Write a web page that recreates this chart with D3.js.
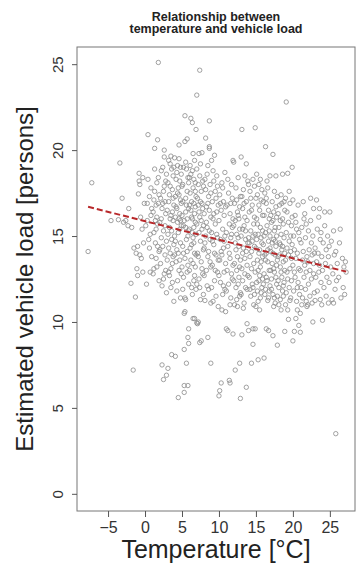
<!DOCTYPE html>
<html>
<head>
<meta charset="utf-8">
<script src="https://cdn.jsdelivr.net/npm/d3@7/dist/d3.min.js"></script>
<style>
  body { margin: 0; background: #fff; }
  svg { display: block; font-family: "Liberation Sans", Arial, sans-serif; }
  .axis path, .axis line { stroke: #555; }
  .axis text { fill: #333; }
</style>
</head>
<body>
<svg id="chart" width="360" height="563"></svg>
<script>
// chart text
const titleLines = ['Relationship between', 'temperature and vehicle load'];
const xLabel = 'Temperature [°C]';
const yLabel = 'Estimated vehicle load [persons]';
const xTicks = [-5, 0, 5, 10, 15, 20, 25];
const yTicks = [0, 5, 10, 15, 20, 25];

// fitted line, start and end (temperature, load)
const trend = [[-7.7, 16.7], [27.2, 12.93]];

const points = [
  [-7.7,14.1],[-7.2,18.1],[-4.6,15.9],[-3.6,15.95],[-3.4,19.25],[-3.1,17.2],[-2.9,15.8],[-2.6,15.9],[-2.3,15.6],[-2.2,16.6],
  [-1.9,12.25],[-1.8,15.5],[-1.6,7.2],[-1.5,14.3],[-1.3,11.45],[-1.2,14.0],[-1.1,13.1],[-1.0,12.7],[-1.0,14.4],[-0.9,17.45],
  [-0.8,18.65],[-0.8,18.2],[-0.7,18.0],[-0.7,13.9],[-0.6,16.1],[-0.5,13.7],[-0.4,15.4],[-0.3,18.4],[-0.3,12.9],[-0.2,14.6],[-0.1,16.9],
  [0.1,15.6],[0.3,16.9],[0.4,20.9],[0.5,14.8],[0.2,12.2],[0.6,17.3],[0.7,15.1],[0.8,16.2],[0.9,13.8],[0.4,18.3],[0.6,14.3],[0.8,17.8],[0.3,15.9],[0.9,16.6],[0.7,12.9],
  [1.1,16.4],[1.2,15.2],[1.3,20.1],[1.3,17.6],[1.4,14.6],[1.5,16.8],[1.6,13.2],[1.7,20.6],[1.7,15.7],[1.8,25.1],[1.8,18.4],[1.9,14.1],[1.1,12.8],[1.2,17.1],[1.4,15.9],
  [1.5,13.7],[1.6,16.1],[1.8,16.9],[1.9,12.4],[1.3,18.9],[1.5,15.4],[1.7,14.4],[1.9,17.4],[1.2,13.1],[1.6,18.1],
  [2.0,15.8],[2.1,17.2],[2.2,14.9],[2.3,12.1],[2.3,16.6],[2.4,19.0],[2.5,15.3],[2.5,6.65],[2.6,20.0],[2.6,19.6],[2.6,17.9],[2.7,13.9],[2.8,16.3],[2.9,6.9],[2.9,11.7],
  [2.9,18.6],[2.1,13.4],[2.2,16.0],[2.3,7.5],[2.4,14.4],[2.5,17.6],[2.6,12.8],[2.7,15.6],[2.8,18.2],[2.9,14.7],[2.2,18.8],[2.4,16.9],[2.7,17.0],[2.8,13.0],[2.0,14.2],[2.5,12.5],
  [3.1,7.3],[3.0,16.5],[3.1,18.1],[3.2,14.3],[3.2,17.0],[3.3,15.5],[3.3,12.7],[3.4,19.2],[3.5,12.0],[3.5,16.2],[3.5,19.65],[3.6,8.1],[3.6,14.8],[3.7,17.7],[3.7,13.4],
  [3.8,15.9],[3.8,18.5],[3.9,16.8],[3.9,11.2],[3.0,13.6],[3.1,15.1],[3.2,19.4],[3.3,17.4],[3.4,14.0],[3.4,16.0],[3.6,18.9],[3.6,15.3],[3.7,12.3],[3.8,17.2],[3.9,14.5],
  [3.9,19.0],[3.2,12.9],[3.4,17.9],[3.5,13.1],[3.7,16.4],[3.8,13.8],
  [4.0,19.55],[4.1,8.0],[4.0,15.0],[4.1,17.3],[4.2,13.5],[4.2,16.7],[4.3,18.7],[4.3,14.2],[4.4,15.8],[4.4,12.4],[4.5,5.6],[4.5,17.8],[4.5,15.2],[4.6,20.3],[4.6,19.5],
  [4.6,13.0],[4.7,16.3],[4.7,18.2],[4.8,14.6],[4.8,17.1],[4.9,15.6],[4.9,12.8],[4.0,13.9],[4.1,16.1],[4.2,18.3],[4.3,11.8],[4.4,17.5],[4.4,19.1],[4.5,14.0],[4.6,16.0],
  [4.7,13.6],[4.7,15.4],[4.8,19.0],[4.8,11.4],[4.9,16.9],[4.9,18.6],[4.1,14.7],[4.3,16.6],[4.6,17.4],[4.8,15.9],
  [5.0,16.2],[5.1,14.4],[5.1,18.0],[5.2,15.6],[5.2,12.6],[5.3,6.3],[5.3,5.9],[5.3,8.4],[5.3,10.5],[5.4,10.6],[5.4,20.5],[5.4,22.0],[5.4,11.4],[5.5,11.3],[5.5,19.3],
  [5.5,17.2],[5.6,7.6],[5.6,16.8],[5.7,20.65],[5.7,14.1],[5.8,9.1],[5.8,6.3],[5.8,18.4],[5.9,8.75],[5.9,9.6],[5.9,15.3],[5.0,13.2],[5.1,17.0],[5.2,19.0],[5.3,15.9],
  [5.4,13.7],[5.5,16.4],[5.6,14.8],[5.6,18.9],[5.7,12.9],[5.7,17.6],[5.8,15.0],[5.8,13.3],[5.9,16.6],[5.9,18.1],[5.0,17.9],[5.2,14.0],[5.5,15.5],[5.7,16.0],[5.9,12.2],[5.1,11.9],
  [6.0,15.4],[6.1,17.5],[6.2,21.85],[6.2,13.6],[6.3,16.1],[6.4,21.6],[6.4,18.8],[6.5,10.2],[6.5,14.9],[6.6,16.9],[6.6,12.4],[6.7,19.4],[6.7,10.2],[6.8,15.8],[6.8,13.2],
  [6.9,21.2],[6.9,17.3],[6.0,18.4],[6.1,14.3],[6.2,16.5],[6.3,12.0],[6.4,15.2],[6.5,17.8],[6.5,19.8],[6.6,14.6],[6.7,16.3],[6.8,18.1],[6.9,13.9],[6.0,13.0],[6.1,19.1],
  [6.3,17.0],[6.4,11.6],[6.6,15.5],[6.7,14.0],[6.8,16.7],[6.9,15.1],[6.0,16.8],[6.2,18.6],[6.3,14.5],[6.5,13.4],[6.6,18.3],[6.7,12.7],[6.8,17.6],[6.9,11.9],[6.4,16.0],
  [7.0,23.2],[7.0,9.95],[7.1,9.9],[7.2,10.0],[7.3,19.8],[7.4,24.65],[7.4,8.8],[7.0,15.7],[7.1,17.2],[7.2,13.8],[7.3,16.4],[7.3,12.5],[7.4,18.5],[7.5,14.7],[7.5,17.0],
  [7.6,8.9],[7.6,15.9],[7.7,19.85],[7.7,13.1],[7.8,16.6],[7.8,18.2],[7.9,14.2],[7.9,11.6],[7.0,18.9],[7.1,14.0],[7.2,16.8],[7.3,15.2],[7.4,12.0],[7.5,19.2],[7.6,13.5],
  [7.6,17.6],[7.7,15.4],[7.8,12.8],[7.9,17.9],[7.0,12.2],[7.2,18.0],[7.4,16.1],[7.5,11.3],[7.7,16.9],[7.9,15.6],
  [8.1,11.25],[8.2,20.7],[8.5,9.1],[8.7,21.7],[8.7,20.2],[8.7,20.1],[8.9,7.6],[8.9,11.1],[8.0,16.3],[8.1,14.6],[8.2,17.7],[8.3,13.0],[8.3,15.8],[8.4,18.6],[8.4,12.1],
  [8.5,16.9],[8.6,14.1],[8.6,17.3],[8.7,15.3],[8.8,13.5],[8.8,18.0],[8.9,16.1],[8.0,12.7],[8.1,18.3],[8.2,15.0],[8.3,16.7],[8.5,13.8],[8.5,19.1],[8.6,11.9],[8.7,16.5],
  [8.8,14.8],[8.9,17.5],[8.0,14.3],[8.4,15.5],[8.9,13.2],
  [9.0,19.4],[9.2,11.2],[9.4,19.7],[9.0,15.2],[9.1,17.0],[9.1,13.3],[9.2,16.0],[9.3,14.5],[9.3,18.2],[9.4,12.4],[9.5,15.7],[9.5,17.6],[9.6,13.9],[9.6,11.5],[9.7,16.4],
  [9.7,18.5],[9.8,14.9],[9.8,12.9],[9.9,16.8],[9.9,10.9],[9.0,12.0],[9.2,18.8],[9.3,16.3],[9.4,14.0],[9.5,13.0],[9.6,17.2],[9.7,15.1],[9.8,17.9],[9.9,13.6],[9.1,14.7],
  [10.0,5.7],[10.1,6.0],[10.3,6.45],[10.4,10.7],[10.0,15.9],[10.1,13.6],[10.1,17.4],[10.2,14.8],[10.2,12.3],[10.3,16.5],[10.4,18.1],[10.4,13.9],[10.5,15.4],[10.5,11.6],
  [10.6,17.0],[10.6,14.3],[10.7,12.9],[10.7,16.2],[10.8,18.7],[10.8,15.0],[10.9,10.6],[10.9,13.4],[10.0,12.7],[10.2,16.9],[10.3,14.1],[10.5,17.8],[10.6,12.1],[10.7,14.7],
  [10.8,11.9],[10.9,16.7],
  [11.0,9.6],[11.2,9.5],[11.5,6.45],[11.4,6.6],[11.9,9.3],[11.9,19.4],[11.0,15.2],[11.1,13.0],[11.1,16.8],[11.2,14.4],[11.3,12.2],[11.3,17.5],[11.4,15.7],[11.5,13.7],
  [11.5,16.3],[11.6,11.4],[11.6,14.9],[11.7,18.0],[11.7,12.8],[11.8,15.5],[11.8,17.2],[11.9,13.3],[11.0,11.8],[11.2,18.3],[11.4,14.0],[11.5,11.0],[11.6,16.9],[11.7,15.1],
  [11.8,12.5],[11.9,16.0],
  [12.0,19.3],[12.2,7.2],[12.8,7.6],[12.9,5.55],[12.0,15.6],[12.1,13.4],[12.1,16.9],[12.2,14.6],[12.3,12.0],[12.3,17.8],[12.4,15.1],[12.4,11.3],[12.5,16.4],[12.5,13.8],
  [12.6,14.9],[12.6,18.4],[12.7,12.6],[12.7,16.0],[12.8,13.2],[12.8,15.4],[12.9,17.3],[12.9,11.7],[12.0,12.4],[12.2,15.9],[12.3,14.2],[12.4,17.1],[12.5,10.9],[12.6,12.2],
  [12.7,14.4],[12.8,16.7],[12.9,13.6],[12.1,11.0],[12.4,13.0],[12.6,16.2],[12.8,11.5],
  [13.0,19.6],[13.1,21.2],[13.1,9.25],[13.7,19.2],[13.7,6.2],[13.8,9.9],[13.0,15.0],[13.1,13.1],[13.2,16.6],[13.2,12.4],[13.3,14.3],[13.3,17.7],[13.4,15.6],[13.4,11.1],
  [13.5,13.7],[13.5,16.1],[13.6,12.0],[13.6,14.8],[13.7,17.0],[13.8,13.3],[13.8,15.9],[13.9,12.7],[13.9,18.2],[13.0,11.6],[13.1,17.3],[13.2,14.0],[13.3,10.8],[13.4,16.9],
  [13.5,12.8],[13.6,15.3],[13.7,14.1],[13.8,11.9],[13.9,14.6],[13.2,15.4],[13.5,18.5],
  [14.0,9.5],[14.4,7.6],[14.6,8.7],[14.6,9.6],[14.9,9.6],[14.9,21.3],[14.0,14.9],[14.1,12.6],[14.1,16.4],[14.2,13.8],[14.2,17.6],[14.3,11.5],[14.3,15.3],[14.4,14.1],
  [14.5,16.8],[14.5,12.2],[14.6,15.0],[14.6,18.3],[14.7,13.4],[14.7,11.0],[14.8,16.1],[14.8,14.4],[14.9,12.9],[14.0,18.0],[14.1,14.6],[14.2,11.9],[14.3,17.2],[14.4,13.1],
  [14.5,14.7],[14.6,12.0],[14.7,15.7],[14.8,17.9],[14.9,15.1],[14.4,16.5],[14.8,11.6],
  [15.3,7.8],[15.0,14.3],[15.1,12.3],[15.1,16.0],[15.2,13.6],[15.2,17.4],[15.3,11.2],[15.3,15.1],[15.4,14.0],[15.4,18.0],[15.5,12.7],[15.5,16.5],[15.6,13.2],[15.6,15.5],
  [15.7,11.7],[15.7,17.1],[15.8,14.6],[15.8,12.0],[15.9,16.2],[15.9,13.8],[15.0,10.9],[15.1,14.8],[15.2,15.7],[15.3,13.0],[15.4,16.8],[15.5,14.2],[15.6,11.4],[15.7,14.9],
  [15.8,17.7],[15.9,12.5],[15.0,17.2],[15.2,11.8],[15.4,12.4],[15.6,18.3],[15.7,13.5],[15.9,15.3],[15.1,18.6],[15.5,10.7],
  [16.1,7.9],[16.3,20.2],[16.4,9.6],[16.6,11.25],[16.7,9.5],[16.9,18.5],[16.0,14.5],[16.1,12.8],[16.1,16.2],[16.2,13.9],[16.2,17.5],[16.3,11.9],[16.3,15.2],[16.4,14.0],
  [16.4,16.9],[16.5,12.4],[16.5,15.6],[16.6,13.5],[16.6,17.8],[16.7,14.7],[16.7,11.4],[16.8,16.0],[16.8,13.0],[16.9,15.0],[16.9,12.1],[16.0,17.0],[16.1,15.0],[16.2,11.6],
  [16.3,13.6],[16.4,12.6],[16.5,18.2],[16.6,14.2],[16.7,16.5],[16.8,11.8],[16.9,14.3],[16.0,12.2],[16.4,17.2],[16.8,15.3],
  [17.3,19.75],[17.3,9.2],[17.4,10.9],[17.7,18.5],[17.9,8.65],[17.0,14.1],[17.1,12.5],[17.1,15.8],[17.2,13.4],[17.2,17.0],[17.3,11.6],[17.4,14.8],[17.4,16.4],[17.5,12.9],
  [17.5,15.3],[17.6,13.9],[17.6,11.1],[17.7,16.7],[17.7,14.4],[17.8,12.2],[17.8,15.0],[17.9,13.6],[17.9,17.3],[17.0,16.2],[17.1,11.9],[17.2,14.6],[17.3,15.9],[17.4,13.1],
  [17.5,17.6],[17.6,15.5],[17.7,12.6],[17.8,16.1],[17.9,11.5],[17.0,13.0],[17.3,14.0],[17.5,11.4],[17.6,14.7],[17.8,13.3],
  [18.6,18.6],[18.9,9.45],[18.0,13.8],[18.1,15.5],[18.1,12.0],[18.2,14.6],[18.2,16.8],[18.3,11.3],[18.3,13.2],[18.4,15.1],[18.4,17.4],[18.5,12.6],[18.5,14.2],[18.6,16.0],
  [18.6,11.8],[18.7,13.5],[18.7,15.7],[18.8,12.3],[18.8,14.9],[18.9,16.5],[18.9,13.0],[18.0,16.3],[18.1,11.0],[18.2,13.9],[18.3,15.9],[18.4,12.9],[18.5,16.9],[18.6,14.4],
  [18.7,11.5],[18.8,17.0],[18.9,14.0],[18.0,12.4],[18.4,10.7],[18.7,12.1],[18.3,14.5],
  [19.1,22.8],[19.3,18.65],[19.4,10.15],[19.3,10.7],[19.6,11.25],[19.9,19.0],[19.0,13.6],[19.1,15.2],[19.1,11.7],[19.2,14.3],[19.2,16.4],[19.3,12.5],[19.4,13.9],[19.4,15.8],
  [19.5,12.0],[19.5,14.7],[19.6,16.9],[19.6,13.1],[19.7,11.4],[19.7,15.0],[19.8,13.7],[19.8,12.4],[19.9,14.5],[19.9,16.1],[19.0,17.2],[19.2,12.9],[19.5,17.6],[19.7,14.1],
  [19.8,15.6],[19.0,11.0],
  [20.0,8.9],[20.2,9.45],[20.4,10.2],[20.6,10.7],[20.8,9.8],[20.0,13.3],[20.1,15.0],[20.1,11.8],[20.2,14.2],[20.3,12.6],[20.3,16.2],[20.4,13.7],[20.5,11.2],[20.5,15.4],
  [20.6,14.0],[20.7,12.3],[20.7,16.8],[20.8,13.1],[20.9,14.8],[20.9,11.6],[20.0,17.1],[20.2,12.9],[20.4,15.8],[20.6,12.0],[20.8,15.2],
  [21.0,9.4],[21.0,10.5],[21.6,16.3],[21.9,10.9],[21.0,13.0],[21.1,14.6],[21.1,12.0],[21.2,15.5],[21.3,13.6],[21.3,11.4],[21.4,14.1],[21.5,12.6],[21.5,16.0],[21.6,13.3],
  [21.7,11.9],[21.7,14.9],[21.8,12.9],[21.8,15.7],[21.9,13.8],[21.2,11.0],[21.4,17.0],[21.8,11.2],
  [22.7,10.0],[22.0,13.5],[22.1,12.2],[22.1,15.3],[22.2,14.2],[22.3,11.5],[22.3,13.0],[22.4,15.9],[22.5,12.5],[22.5,14.6],[22.6,11.1],[22.6,13.9],[22.7,15.0],[22.8,12.8],
  [22.8,16.6],[22.9,14.0],[22.9,11.7],[22.0,11.0],[22.4,17.2],[22.8,13.4],
  [23.0,11.25],[23.6,16.6],[23.0,14.3],[23.1,12.6],[23.2,13.5],[23.3,15.4],[23.3,11.8],[23.4,14.0],[23.5,12.9],[23.5,16.1],[23.6,13.3],[23.7,11.3],[23.7,14.8],[23.8,12.3],
  [23.8,15.2],[23.9,13.8],[23.2,17.1],[23.9,11.0],
  [24.0,10.1],[24.0,13.0],[24.1,14.6],[24.2,12.0],[24.3,15.6],[24.4,13.4],[24.5,11.5],[24.5,14.2],[24.6,12.6],[24.7,15.0],[24.8,13.8],[24.8,11.1],[24.9,14.4],[24.3,16.4],[24.9,12.3],
  [25.0,16.4],[25.1,13.2],[25.2,14.7],[25.3,11.3],[25.4,12.8],[25.5,15.3],[25.6,13.9],[25.7,11.9],[25.8,3.5],[25.8,14.1],[25.9,12.4],[25.5,11.1],
  [26.0,13.4],[26.2,12.6],[26.3,14.6],[26.5,11.4],[26.7,13.7],[26.8,12.0],[26.9,13.2],[26.4,15.4],
  [27.1,13.5],[27.2,12.9],[27.0,11.6]
];

const svg = d3.select('#chart'),
    margin = {top: 47, right: 5, bottom: 52, left: 77},
    width = +svg.attr('width') - margin.left - margin.right,
    height = +svg.attr('height') - margin.top - margin.bottom;

const x = d3.scaleLinear().domain([-9.2, 28.4]).range([0, width]);
const y = d3.scaleLinear().domain([-1, 26]).range([height, 0]);

const g = svg.append('g')
    .attr('transform', 'translate(' + margin.left + ',' + margin.top + ')');

// points
g.append('g').selectAll('circle')
    .data(points)
    .enter().append('circle')
    .attr('cx', d => x(d[0]))
    .attr('cy', d => y(d[1]))
    .attr('r', 2.2)
    .attr('fill', 'none')
    .attr('stroke', '#8a8a8a')
    .attr('stroke-width', 0.8);

// regression line
g.append('path')
    .datum(trend)
    .attr('d', d3.line().x(d => x(d[0])).y(d => y(d[1])))
    .attr('fill', 'none')
    .attr('stroke', '#b8282a')
    .attr('stroke-width', 2)
    .attr('stroke-dasharray', '6,3');

// box
g.append('rect')
    .attr('width', width)
    .attr('height', height)
    .attr('fill', 'none')
    .attr('stroke', '#777');

// x axis
const xAxis = g.append('g')
    .attr('class', 'axis')
    .attr('transform', 'translate(0,' + height + ')')
    .call(d3.axisBottom(x).tickValues(xTicks).tickSize(6).tickPadding(5).tickSizeOuter(0));
xAxis.select('.domain').remove();
xAxis.selectAll('text').style('font-size', '16px');

// y axis, labels parallel to the axis
const yAxis = g.append('g')
    .attr('class', 'axis')
    .call(d3.axisLeft(y).tickValues(yTicks).tickSize(5).tickSizeOuter(0));
yAxis.select('.domain').remove();
yAxis.selectAll('text')
    .style('font-size', '15px')
    .attr('text-anchor', 'middle')
    .attr('x', null)
    .attr('dy', null)
    .attr('transform', 'translate(-14,0) rotate(-90)');

// title
svg.append('text')
    .attr('x', margin.left + width / 2)
    .attr('text-anchor', 'middle')
    .style('font-size', '12.5px')
    .style('font-weight', 'bold')
    .attr('fill', '#222')
    .selectAll('tspan')
    .data(titleLines)
    .enter().append('tspan')
    .attr('x', margin.left + width / 2)
    .attr('y', (d, i) => 20.5 + i * 12.5)
    .text(d => d);

// axis titles
svg.append('text')
    .attr('x', margin.left + width / 2)
    .attr('y', 558)
    .attr('text-anchor', 'middle')
    .style('font-size', '25px')
    .attr('fill', '#222')
    .text(xLabel);

svg.append('text')
    .attr('transform', 'translate(33,' + (margin.top + height / 2) + ') rotate(-90)')
    .attr('text-anchor', 'middle')
    .style('font-size', '24px')
    .attr('fill', '#222')
    .text(yLabel);
</script>
</body>
</html>
